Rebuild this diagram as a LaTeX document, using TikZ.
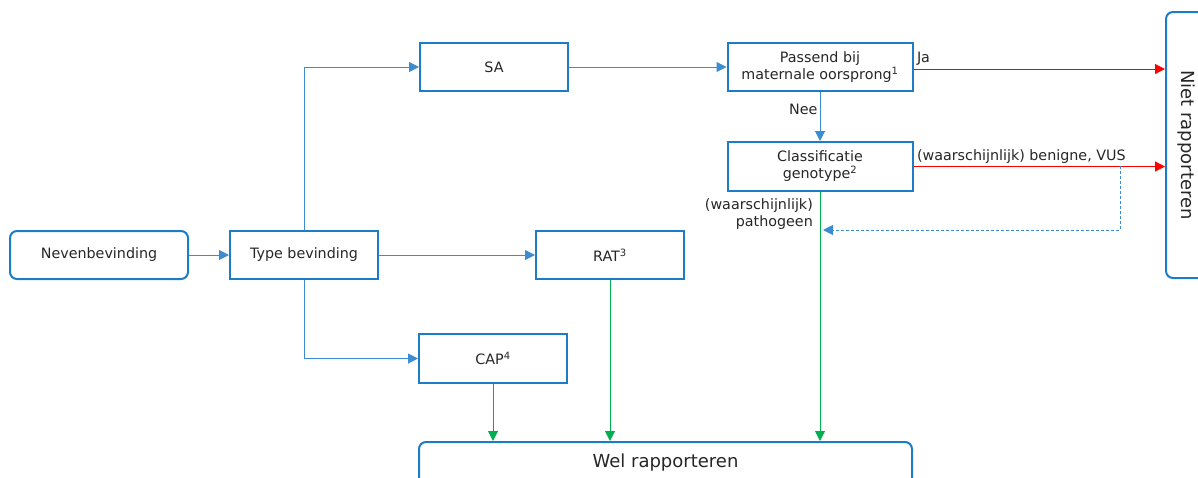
\documentclass[tikz,border=0pt]{standalone}
\usepackage{fontspec}
\setmainfont{DejaVu Sans}
\usetikzlibrary{arrows.meta,positioning}
\definecolor{boxblue}{RGB}{28,124,198}
\definecolor{lineblue}{RGB}{60,140,210}
\definecolor{nored}{RGB}{255,0,0}
\definecolor{yesgreen}{RGB}{0,176,80}
\definecolor{txtgrey}{RGB}{38,38,38}
\tikzset{
  box/.style={draw=boxblue,line width=2pt,minimum width=148pt,minimum height=48pt,
    inner sep=0pt,align=center,text=txtgrey,font=\fontsize{14.3}{17}\selectfont},
  rbox/.style={box,rounded corners=7pt},
  lbl/.style={text=txtgrey,font=\fontsize{14.3}{17}\selectfont,inner sep=2pt},
  flow/.style={draw=lineblue,line width=1pt,-{Triangle[length=10pt,width=10pt]}},
  nope/.style={flow,draw=nored,fill=nored},
  yes/.style={flow,draw=yesgreen,fill=yesgreen},
  back/.style={flow,dashed,dash pattern=on 3pt off 2pt}
}
\begin{document}
\begin{tikzpicture}[x=1pt,y=-1pt]
\useasboundingbox (0,0) rectangle (1198,477);
\clip (0,0) rectangle (1198,477);
% boxes
\node[rbox,minimum width=178pt] (neven) at (99,255) {Nevenbevinding};
\node[box] (type) at (304,255) {Type bevinding};
\node[box] (sa) at (494,67) {SA};
\node[box,minimum width=185pt] (passend) at (820,67) {Passend bij\\maternale oorsprong\textsuperscript{1}};
\node[box,minimum width=185pt,minimum height=49pt] (klass) at (820,166.5) {Classificatie\\genotype\textsuperscript{2}};
\node[box] (rat) at (610,255) {RAT\textsuperscript{3}};
\node[box,minimum height=49pt] (cap) at (493,358.5) {CAP\textsuperscript{4}};
\node[rbox,minimum width=493pt,minimum height=70pt] (wel) at (665.5,477) {};
\node[lbl,font=\fontsize{18}{21}\selectfont] (weltxt) at (665.5,463) {Wel rapporteren};
\node[rbox,minimum width=40pt,minimum height=266pt] (niet) at (1186,145) {};
\node[lbl,font=\fontsize{18}{21}\selectfont,rotate=-90] (niettxt) at (1186,145) {Niet rapporteren};
% connectors
\draw[flow] (neven) -- (type);
\draw[flow] (type.north) |- (sa);
\draw[flow] (type.south) |- (cap);
\draw[flow] (type) -- (rat);
\draw[flow] (sa) -- (passend);
\draw[flow] (passend) -- node[lbl,left,pos=0.35] (nee) {Nee} (klass);
\coordinate (jastart) at ([yshift=-2pt]passend.east);
\draw[nope] (jastart) -- node[lbl,above right,pos=0,inner sep=3pt] (ja) {Ja} (niet.west |- jastart);
\draw[nope] (klass.east) -- node[lbl,above right,pos=0,inner sep=3pt] (vus) {(waarschijnlijk) benigne, VUS} (niet.west |- klass.east);
\coordinate (split) at (1120,166);
\coordinate (terug) at (823,230);
\draw[back] (split) |- (terug);
\node[lbl,align=right,anchor=north east] (patho) at (815,196) {(waarschijnlijk)\\pathogeen};
\draw[yes] (cap.south) -- (cap |- wel.north);
\draw[yes] (rat.south) -- (rat |- wel.north);
\draw[yes] (klass.south) -- (klass |- wel.north);
\end{tikzpicture}
\end{document}
